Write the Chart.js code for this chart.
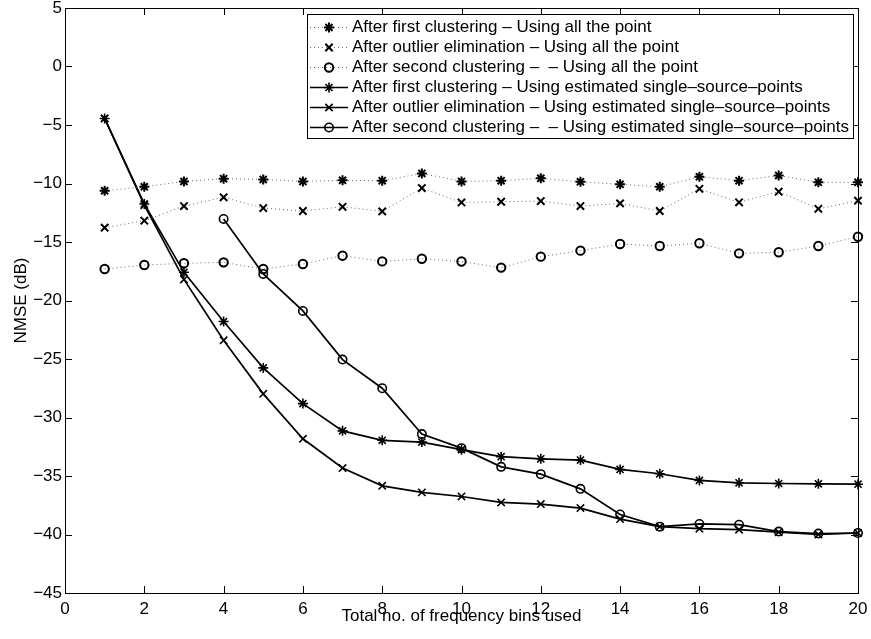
<!DOCTYPE html>
<html>
<head>
<meta charset="utf-8">
<script src="https://cdn.jsdelivr.net/npm/chart.js@4.4.1/dist/chart.umd.min.js"></script>
<style>
html,body{margin:0;padding:0;background:#fff;}
canvas{display:block;}
</style>
</head>
<body>
<canvas id="c" width="871" height="639"></canvas>
<script>
// ---- data ----
const bins = [1,2,3,4,5,6,7,8,9,10,11,12,13,14,15,16,17,18,19,20];

const firstAll   = [-10.62,-10.28,-9.82,-9.59,-9.65,-9.82,-9.73,-9.76,-9.14,-9.82,-9.76,-9.56,-9.85,-10.07,-10.28,-9.42,-9.76,-9.31,-9.90,-9.90];
const outlierAll = [-13.78,-13.18,-11.93,-11.18,-12.10,-12.35,-11.99,-12.38,-10.39,-11.62,-11.56,-11.50,-11.93,-11.70,-12.35,-10.45,-11.61,-10.70,-12.16,-11.47];
const secondAll  = [-17.31,-16.97,-16.82,-16.74,-17.31,-16.88,-16.17,-16.66,-16.43,-16.67,-17.19,-16.25,-15.74,-15.17,-15.34,-15.11,-15.97,-15.88,-15.34,-14.55];

const firstEst   = [-4.44,-11.75,-17.59,-21.80,-25.76,-28.81,-31.14,-31.95,-32.10,-32.75,-33.35,-33.53,-33.64,-34.44,-34.81,-35.38,-35.58,-35.64,-35.67,-35.70];
const outlierEst = [-4.44,-11.85,-18.20,-23.40,-27.98,-31.82,-34.32,-35.84,-36.40,-36.75,-37.26,-37.40,-37.74,-38.68,-39.33,-39.50,-39.59,-39.80,-40.00,-39.87];
const secondEst  = [null,null,null,-13.03,-17.73,-20.89,-25.05,-27.50,-31.42,-32.62,-34.22,-34.84,-36.10,-38.29,-39.33,-39.10,-39.16,-39.75,-39.92,-39.87];

const seriesLabels = [
  'After first clustering \u2013 Using all the point',
  'After outlier elimination \u2013 Using all the point',
  'After second clustering \u2013  \u2013 Using all the point',
  'After first clustering \u2013 Using estimated single\u2013source\u2013points',
  'After outlier elimination \u2013 Using estimated single\u2013source\u2013points',
  'After second clustering \u2013  \u2013 Using estimated single\u2013source\u2013points'
];

const xTicks = [0,2,4,6,8,10,12,14,16,18,20];
const yTicks = [-45,-40,-35,-30,-25,-20,-15,-10,-5,0,5];
const xTitle = 'Total no. of frequency bins used';
const yTitle = 'NMSE (dB)';

// ---- styling ----
const FONT = '"Liberation Sans", Arial, Helvetica, sans-serif';
const FS = 17;

function pts(arr){ return bins.map((b,i)=>({x:b, y:arr[i]})); }
function fmt(v){ return v < 0 ? '\u2212' + Math.abs(v) : String(v); }

function dotted(label, data, style, radius){
  return {
    label, data: pts(data),
    borderColor:'#6a6a6a', borderWidth:1, borderDash:[1,3],
    pointStyle:style, pointRadius:radius, pointHoverRadius:radius,
    pointBorderColor:'#000', pointBackgroundColor: style==='circle' ? 'rgba(0,0,0,0)' : '#000',
    pointBorderWidth:2, fill:false, tension:0, clip:false
  };
}
function solid(label, data, style, radius){
  return {
    label, data: pts(data),
    borderColor:'#000', borderWidth:1.7,
    pointStyle:style, pointRadius:radius, pointHoverRadius:radius,
    pointBorderColor:'#000', pointBackgroundColor: style==='circle' ? 'rgba(0,0,0,0)' : '#000',
    pointBorderWidth:1.6, fill:false, tension:0, clip:false
  };
}

const datasets = [
  dotted(seriesLabels[0], firstAll, 'star', 5),
  dotted(seriesLabels[1], outlierAll, 'crossRot', 5.2),
  dotted(seriesLabels[2], secondAll, 'circle', 4.2),
  solid(seriesLabels[3], firstEst, 'star', 5),
  solid(seriesLabels[4], outlierEst, 'crossRot', 5.2),
  solid(seriesLabels[5], secondEst, 'circle', 4.2)
];

const framePlugin = {
  id:'frame',
  afterDatasetsDraw(chart){
    const {ctx, chartArea:a, scales:{x, y}} = chart;
    const L = 7;
    ctx.save();
    ctx.strokeStyle = '#000';
    ctx.lineWidth = 1;
    ctx.beginPath();
    xTicks.forEach(v=>{
      const px = Math.round(x.getPixelForValue(v)) + 0.5;
      ctx.moveTo(px, a.bottom); ctx.lineTo(px, a.bottom - L);
      ctx.moveTo(px, a.top); ctx.lineTo(px, a.top + L);
    });
    yTicks.forEach(v=>{
      const py = Math.round(y.getPixelForValue(v)) + 0.5;
      ctx.moveTo(a.left, py); ctx.lineTo(a.left + L, py);
      ctx.moveTo(a.right, py); ctx.lineTo(a.right - L, py);
    });
    ctx.stroke();
    ctx.strokeRect(Math.round(a.left)+0.5, Math.round(a.top)+0.5, Math.round(a.right-a.left), Math.round(a.bottom-a.top));
    ctx.restore();
  }
};

const legendPlugin = {
  id:'boxLegend',
  afterDraw(chart){
    const {ctx, chartArea:a} = chart;
    const right = a.right - 5, top = a.top + 6, left = 307, rowH = 20;
    const bottom = top + rowH * datasets.length + 4;
    ctx.save();
    ctx.fillStyle = '#fff';
    ctx.fillRect(left, top, right-left, bottom-top);
    ctx.strokeStyle = '#000';
    ctx.lineWidth = 1;
    ctx.strokeRect(left+0.5, top+0.5, right-left, bottom-top);
    ctx.font = FS + 'px ' + FONT;
    ctx.textBaseline = 'middle';
    chart.data.datasets.forEach((ds, i)=>{
      const cy = Math.round(top + 12.5 + i*rowH) + 0.5;
      ctx.save();
      ctx.strokeStyle = ds.borderColor;
      ctx.lineWidth = ds.borderWidth;
      ctx.setLineDash(ds.borderDash || []);
      ctx.beginPath();
      ctx.moveTo(left+3, cy); ctx.lineTo(left+41, cy);
      ctx.stroke();
      ctx.restore();
      ctx.save();
      ctx.strokeStyle = ds.pointBorderColor;
      ctx.fillStyle = ds.pointBackgroundColor;
      ctx.lineWidth = ds.pointBorderWidth;
      Chart.helpers.drawPoint(ctx, {pointStyle:ds.pointStyle, radius:ds.pointRadius, rotation:0, borderWidth:ds.pointBorderWidth}, left+22, cy);
      ctx.restore();
      ctx.fillStyle = '#000';
      ctx.fillText(ds.label, left+45, cy);
    });
    ctx.restore();
  }
};

new Chart(document.getElementById('c'), {
  type:'line',
  data:{ datasets },
  options:{
    responsive:false,
    animation:false,
    events:[],
    layout:{ padding:{left:0, top:8, right:13, bottom:0} },
    plugins:{ legend:{display:false}, tooltip:{enabled:false} },
    scales:{
      x:{
        type:'linear', min:0, max:20,
        afterBuildTicks(s){ s.ticks = xTicks.map(v=>({value:v})); },
        ticks:{ callback:v=>fmt(v), font:{family:FONT, size:FS}, color:'#000', padding:6, maxRotation:0, autoSkip:false },
        grid:{ display:false, drawTicks:false },
        border:{ display:false },
        title:{ display:true, text:xTitle, font:{family:FONT, size:FS}, color:'#000', padding:{top:12, bottom:12} },
        afterFit(s){ s.height = 46; s.paddingLeft = 0; s.paddingRight = 0; }
      },
      y:{
        type:'linear', min:-45, max:5,
        afterBuildTicks(s){ s.ticks = yTicks.map(v=>({value:v})); },
        ticks:{ callback:v=>fmt(v), font:{family:FONT, size:FS}, color:'#000', padding:3, autoSkip:false },
        grid:{ display:false, drawTicks:false },
        border:{ display:false },
        title:{ display:true, text:yTitle, font:{family:FONT, size:FS}, color:'#000', padding:{top:11, bottom:11} },
        afterFit(s){ s.width = 65; s.paddingTop = 0; s.paddingBottom = 0; }
      }
    }
  },
  plugins:[framePlugin, legendPlugin]
});
</script>
</body>
</html>
